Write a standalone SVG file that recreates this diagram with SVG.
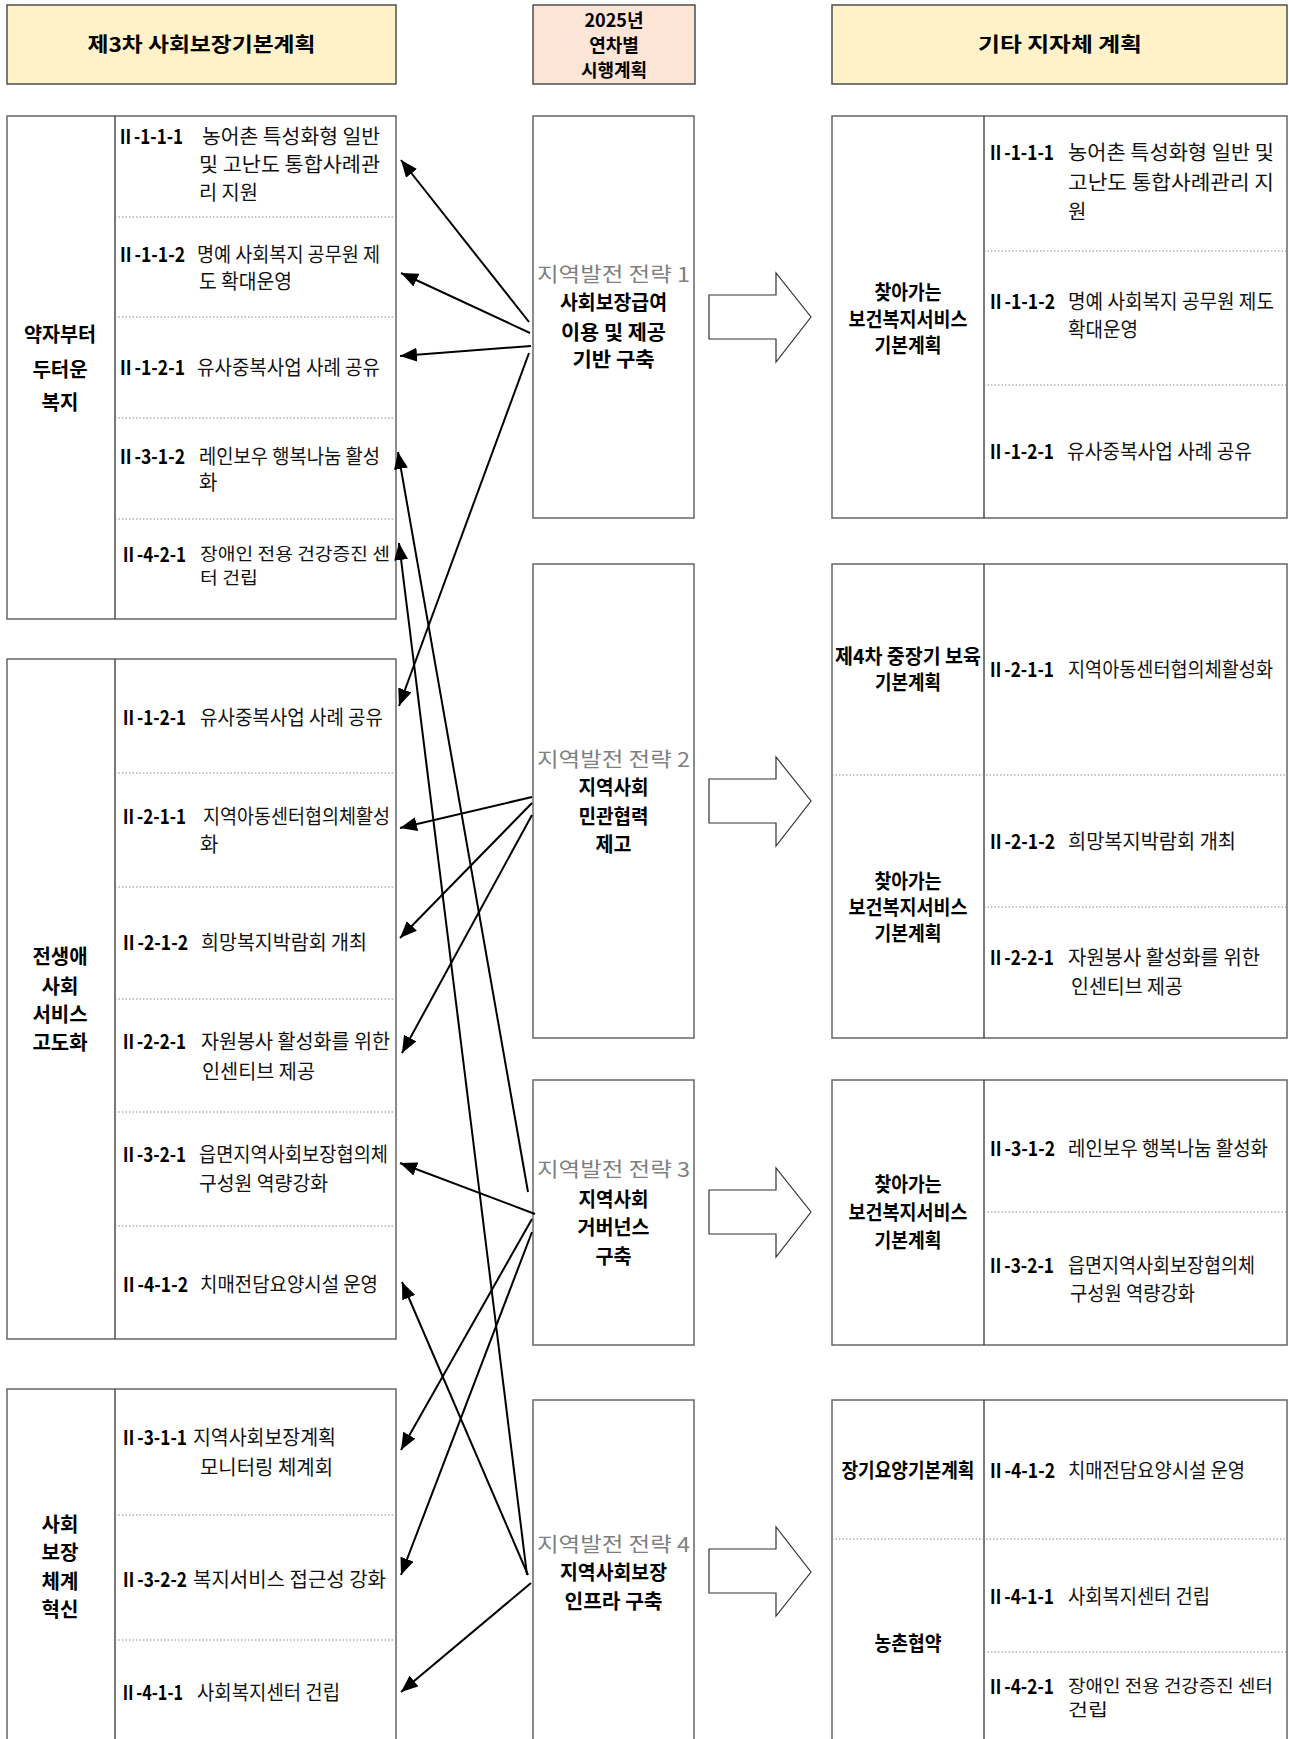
<svg xmlns="http://www.w3.org/2000/svg" width="1289" height="1739" viewBox="0 0 1289 1739">
<style>
.bg{fill:#fff}
.box{fill:#fff;stroke:#666;stroke-width:1.5}
.hy{fill:#FFF2C8;stroke:#4d4d4d;stroke-width:1.5}
.hp{fill:#FCE4D6;stroke:#4d4d4d;stroke-width:1.5}
.dv{stroke:#333;stroke-width:1.3}
.dt{stroke:#888;stroke-width:1;stroke-dasharray:1.5 2}
.t{font-family:"Noto Sans CJK KR","Noto Sans",sans-serif;font-size:20px;fill:#111}
.ts{font-family:"Noto Sans CJK KR","Noto Sans",sans-serif;font-size:17px;fill:#111}
.c{font-family:"Noto Sans CJK KR","Noto Sans",sans-serif;font-size:20px;font-weight:700;fill:#000}
.l{font-family:"Noto Sans CJK KR","Noto Sans",sans-serif;font-size:20px;font-weight:700;fill:#000;text-anchor:middle}
.ls{font-family:"Noto Sans CJK KR","Noto Sans",sans-serif;font-size:18px;font-weight:700;fill:#000;text-anchor:middle}
.g{font-family:"Noto Sans CJK KR","Noto Sans",sans-serif;font-size:20px;fill:#7f7f7f;text-anchor:middle}
.cn{stroke:#000;stroke-width:2;fill:none;marker-end:url(#ah)}
.ba{fill:#fff;stroke:#333;stroke-width:1.2}
</style>
<defs>
<marker id="ah" markerUnits="userSpaceOnUse" markerWidth="17" markerHeight="14" refX="17" refY="7" orient="auto">
<path d="M0,0 L17,7 L0,14 z" fill="#000"/>
</marker>
</defs>
<rect class="bg" x="0" y="0" width="1289" height="1739"/>

<!-- headers -->
<g id="hdr-left">
<rect class="hy" x="7" y="5" width="389" height="79"/>
<text class="l" x="201.5" y="52" textLength="228" lengthAdjust="spacingAndGlyphs">제3차 사회보장기본계획</text>
</g>
<g id="hdr-mid">
<rect class="hp" x="533" y="5" width="162" height="79"/>
<text class="ls" x="614" y="27">2025년</text>
<text class="ls" x="614" y="52">연차별</text>
<text class="ls" x="614" y="77">시행계획</text>
</g>
<g id="hdr-right">
<rect class="hy" x="832" y="5" width="455" height="79"/>
<text class="l" x="1060" y="52" textLength="164" lengthAdjust="spacingAndGlyphs">기타 지자체 계획</text>
</g>

<!-- left box 1 -->
<g id="left-1">
<rect class="box" x="7" y="116" width="389" height="503"/>
<line class="dv" x1="115" y1="116" x2="115" y2="619"/>
<line class="dt" x1="115" y1="217" x2="396" y2="217"/>
<line class="dt" x1="115" y1="317" x2="396" y2="317"/>
<line class="dt" x1="115" y1="418" x2="396" y2="418"/>
<line class="dt" x1="115" y1="519" x2="396" y2="519"/>
<text class="l" x="60" y="342" textLength="72" lengthAdjust="spacingAndGlyphs">약자부터</text>
<text class="l" x="60" y="377">두터운</text>
<text class="l" x="60" y="410">복지</text>
<text class="c" x="117" y="144" textLength="66" lengthAdjust="spacingAndGlyphs">Ⅱ-1-1-1</text>
<text class="t" x="202" y="144" textLength="178" lengthAdjust="spacingAndGlyphs">농어촌 특성화형 일반</text>
<text class="t" x="199" y="172" textLength="181" lengthAdjust="spacingAndGlyphs">및 고난도 통합사례관</text>
<text class="t" x="199" y="200" textLength="59" lengthAdjust="spacingAndGlyphs">리 지원</text>
<text class="c" x="117" y="262" textLength="68" lengthAdjust="spacingAndGlyphs">Ⅱ-1-1-2</text>
<text class="t" x="197" y="262" textLength="183" lengthAdjust="spacingAndGlyphs">명예 사회복지 공무원 제</text>
<text class="t" x="199" y="289" textLength="93" lengthAdjust="spacingAndGlyphs">도 확대운영</text>
<text class="c" x="117" y="375" textLength="68" lengthAdjust="spacingAndGlyphs">Ⅱ-1-2-1</text>
<text class="t" x="197" y="375" textLength="183" lengthAdjust="spacingAndGlyphs">유사중복사업 사례 공유</text>
<text class="c" x="117" y="464" textLength="68" lengthAdjust="spacingAndGlyphs">Ⅱ-3-1-2</text>
<text class="t" x="199" y="464" textLength="181" lengthAdjust="spacingAndGlyphs">레인보우 행복나눔 활성</text>
<text class="t" x="199" y="490">화</text>
<text class="c" x="120" y="562" textLength="66" lengthAdjust="spacingAndGlyphs">Ⅱ-4-2-1</text>
<text class="ts" x="200" y="560" textLength="190" lengthAdjust="spacingAndGlyphs">장애인 전용 건강증진 센</text>
<text class="ts" x="200" y="584" textLength="58" lengthAdjust="spacingAndGlyphs">터 건립</text>
</g>

<!-- left box 2 -->
<g id="left-2">
<rect class="box" x="7" y="659" width="389" height="680"/>
<line class="dv" x1="115" y1="659" x2="115" y2="1339"/>
<line class="dt" x1="115" y1="773" x2="396" y2="773"/>
<line class="dt" x1="115" y1="887" x2="396" y2="887"/>
<line class="dt" x1="115" y1="999" x2="396" y2="999"/>
<line class="dt" x1="115" y1="1112" x2="396" y2="1112"/>
<line class="dt" x1="115" y1="1226" x2="396" y2="1226"/>
<text class="l" x="60" y="964">전생애</text>
<text class="l" x="60" y="994">사회</text>
<text class="l" x="60" y="1022">서비스</text>
<text class="l" x="60" y="1050">고도화</text>
<text class="c" x="120" y="725" textLength="66" lengthAdjust="spacingAndGlyphs">Ⅱ-1-2-1</text>
<text class="t" x="200" y="725" textLength="183" lengthAdjust="spacingAndGlyphs">유사중복사업 사례 공유</text>
<text class="c" x="120" y="824" textLength="66" lengthAdjust="spacingAndGlyphs">Ⅱ-2-1-1</text>
<text class="t" x="203" y="824" textLength="187" lengthAdjust="spacingAndGlyphs">지역아동센터협의체활성</text>
<text class="t" x="200" y="852">화</text>
<text class="c" x="120" y="950" textLength="68" lengthAdjust="spacingAndGlyphs">Ⅱ-2-1-2</text>
<text class="t" x="201" y="950" textLength="166" lengthAdjust="spacingAndGlyphs">희망복지박람회 개최</text>
<text class="c" x="120" y="1049" textLength="66" lengthAdjust="spacingAndGlyphs">Ⅱ-2-2-1</text>
<text class="t" x="201" y="1049" textLength="189" lengthAdjust="spacingAndGlyphs">자원봉사 활성화를 위한</text>
<text class="t" x="202" y="1079" textLength="113" lengthAdjust="spacingAndGlyphs">인센티브 제공</text>
<text class="c" x="120" y="1162" textLength="66" lengthAdjust="spacingAndGlyphs">Ⅱ-3-2-1</text>
<text class="t" x="199" y="1162" textLength="189" lengthAdjust="spacingAndGlyphs">읍면지역사회보장협의체</text>
<text class="t" x="199" y="1191" textLength="129" lengthAdjust="spacingAndGlyphs">구성원 역량강화</text>
<text class="c" x="120" y="1292" textLength="68" lengthAdjust="spacingAndGlyphs">Ⅱ-4-1-2</text>
<text class="t" x="200" y="1292" textLength="178" lengthAdjust="spacingAndGlyphs">치매전담요양시설 운영</text>
</g>

<!-- left box 3 -->
<g id="left-3">
<rect class="box" x="7" y="1389" width="389" height="360"/>
<line class="dv" x1="115" y1="1389" x2="115" y2="1749"/>
<line class="dt" x1="115" y1="1515" x2="396" y2="1515"/>
<line class="dt" x1="115" y1="1640" x2="396" y2="1640"/>
<text class="l" x="60" y="1532">사회</text>
<text class="l" x="60" y="1560">보장</text>
<text class="l" x="60" y="1589">체계</text>
<text class="l" x="60" y="1617">혁신</text>
<text class="c" x="120" y="1445" textLength="67" lengthAdjust="spacingAndGlyphs">Ⅱ-3-1-1</text>
<text class="t" x="193" y="1445" textLength="143" lengthAdjust="spacingAndGlyphs">지역사회보장계획</text>
<text class="t" x="200" y="1475" textLength="133" lengthAdjust="spacingAndGlyphs">모니터링 체계회</text>
<text class="c" x="120" y="1587" textLength="67" lengthAdjust="spacingAndGlyphs">Ⅱ-3-2-2</text>
<text class="t" x="193" y="1587" textLength="193" lengthAdjust="spacingAndGlyphs">복지서비스 접근성 강화</text>
<text class="c" x="120" y="1700" textLength="63" lengthAdjust="spacingAndGlyphs">Ⅱ-4-1-1</text>
<text class="t" x="197" y="1700" textLength="143" lengthAdjust="spacingAndGlyphs">사회복지센터 건립</text>
</g>

<!-- strategy boxes -->
<g id="strategy-1">
<rect class="box" x="533" y="116" width="161" height="402"/>
<text class="g" x="613.5" y="282" textLength="153" lengthAdjust="spacingAndGlyphs">지역발전 전략 1</text>
<text class="l" x="613.5" y="310" textLength="107" lengthAdjust="spacingAndGlyphs">사회보장급여</text>
<text class="l" x="613.5" y="340" textLength="105" lengthAdjust="spacingAndGlyphs">이용 및 제공</text>
<text class="l" x="613.5" y="367" textLength="82" lengthAdjust="spacingAndGlyphs">기반 구축</text>
</g>
<g id="strategy-2">
<rect class="box" x="533" y="564" width="161" height="474"/>
<text class="g" x="613.5" y="767" textLength="153" lengthAdjust="spacingAndGlyphs">지역발전 전략 2</text>
<text class="l" x="613.5" y="795" textLength="70" lengthAdjust="spacingAndGlyphs">지역사회</text>
<text class="l" x="613.5" y="824" textLength="70" lengthAdjust="spacingAndGlyphs">민관협력</text>
<text class="l" x="613.5" y="852" textLength="36" lengthAdjust="spacingAndGlyphs">제고</text>
</g>
<g id="strategy-3">
<rect class="box" x="533" y="1080" width="161" height="265"/>
<text class="g" x="613.5" y="1177" textLength="153" lengthAdjust="spacingAndGlyphs">지역발전 전략 3</text>
<text class="l" x="613.5" y="1207" textLength="70" lengthAdjust="spacingAndGlyphs">지역사회</text>
<text class="l" x="613.5" y="1235" textLength="72" lengthAdjust="spacingAndGlyphs">거버넌스</text>
<text class="l" x="613.5" y="1264" textLength="36" lengthAdjust="spacingAndGlyphs">구축</text>
</g>
<g id="strategy-4">
<rect class="box" x="533" y="1400" width="161" height="349"/>
<text class="g" x="613.5" y="1552" textLength="153" lengthAdjust="spacingAndGlyphs">지역발전 전략 4</text>
<text class="l" x="613.5" y="1580" textLength="107" lengthAdjust="spacingAndGlyphs">지역사회보장</text>
<text class="l" x="613.5" y="1609" textLength="98" lengthAdjust="spacingAndGlyphs">인프라 구축</text>
</g>

<!-- block arrows -->
<g id="block-arrows">
<polygon class="ba" points="709,295 776,295 776,273 811,317 776,362 776,339 709,339"/>
<polygon class="ba" points="709,779 776,779 776,757 811,801 776,846 776,823 709,823"/>
<polygon class="ba" points="709,1190 776,1190 776,1168 811,1212 776,1257 776,1234 709,1234"/>
<polygon class="ba" points="709,1549 776,1549 776,1527 811,1572 776,1616 776,1593 709,1593"/>
</g>

<!-- right box 1 -->
<g id="right-1">
<rect class="box" x="832" y="116" width="455" height="402"/>
<line class="dv" x1="984" y1="116" x2="984" y2="518"/>
<line class="dt" x1="984" y1="251" x2="1287" y2="251"/>
<line class="dt" x1="984" y1="385" x2="1287" y2="385"/>
<text class="l" x="908" y="300" textLength="67" lengthAdjust="spacingAndGlyphs">찾아가는</text>
<text class="l" x="908" y="327" textLength="119" lengthAdjust="spacingAndGlyphs">보건복지서비스</text>
<text class="l" x="908" y="353" textLength="67" lengthAdjust="spacingAndGlyphs">기본계획</text>
<text class="c" x="987" y="160" textLength="67" lengthAdjust="spacingAndGlyphs">Ⅱ-1-1-1</text>
<text class="t" x="1068" y="160" textLength="206" lengthAdjust="spacingAndGlyphs">농어촌 특성화형 일반 및</text>
<text class="t" x="1068" y="190" textLength="206" lengthAdjust="spacingAndGlyphs">고난도  통합사례관리  지</text>
<text class="t" x="1068" y="219">원</text>
<text class="c" x="987" y="309" textLength="68" lengthAdjust="spacingAndGlyphs">Ⅱ-1-1-2</text>
<text class="t" x="1068" y="309" textLength="206" lengthAdjust="spacingAndGlyphs">명예 사회복지 공무원 제도</text>
<text class="t" x="1068" y="337" textLength="70" lengthAdjust="spacingAndGlyphs">확대운영</text>
<text class="c" x="987" y="459" textLength="67" lengthAdjust="spacingAndGlyphs">Ⅱ-1-2-1</text>
<text class="t" x="1067" y="459" textLength="185" lengthAdjust="spacingAndGlyphs">유사중복사업 사례 공유</text>
</g>

<!-- right box 2 -->
<g id="right-2">
<rect class="box" x="832" y="564" width="455" height="474"/>
<line class="dv" x1="984" y1="564" x2="984" y2="1038"/>
<line class="dt" x1="832" y1="775" x2="1287" y2="775"/>
<line class="dt" x1="984" y1="907" x2="1287" y2="907"/>
<text class="l" x="908" y="664" textLength="146" lengthAdjust="spacingAndGlyphs">제4차 중장기 보육</text>
<text class="l" x="908" y="690" textLength="66" lengthAdjust="spacingAndGlyphs">기본계획</text>
<text class="l" x="908" y="889" textLength="67" lengthAdjust="spacingAndGlyphs">찾아가는</text>
<text class="l" x="908" y="915" textLength="119" lengthAdjust="spacingAndGlyphs">보건복지서비스</text>
<text class="l" x="908" y="941" textLength="67" lengthAdjust="spacingAndGlyphs">기본계획</text>
<text class="c" x="987" y="677" textLength="67" lengthAdjust="spacingAndGlyphs">Ⅱ-2-1-1</text>
<text class="t" x="1068" y="677" textLength="205" lengthAdjust="spacingAndGlyphs">지역아동센터협의체활성화</text>
<text class="c" x="987" y="849" textLength="68" lengthAdjust="spacingAndGlyphs">Ⅱ-2-1-2</text>
<text class="t" x="1068" y="849" textLength="168" lengthAdjust="spacingAndGlyphs">희망복지박람회 개최</text>
<text class="c" x="987" y="965" textLength="67" lengthAdjust="spacingAndGlyphs">Ⅱ-2-2-1</text>
<text class="t" x="1068" y="965" textLength="192" lengthAdjust="spacingAndGlyphs">자원봉사 활성화를 위한</text>
<text class="t" x="1071" y="994" textLength="112" lengthAdjust="spacingAndGlyphs">인센티브 제공</text>
</g>

<!-- right box 3 -->
<g id="right-3">
<rect class="box" x="832" y="1080" width="455" height="265"/>
<line class="dv" x1="984" y1="1080" x2="984" y2="1345"/>
<line class="dt" x1="984" y1="1212" x2="1287" y2="1212"/>
<text class="l" x="908" y="1192" textLength="67" lengthAdjust="spacingAndGlyphs">찾아가는</text>
<text class="l" x="908" y="1220" textLength="119" lengthAdjust="spacingAndGlyphs">보건복지서비스</text>
<text class="l" x="908" y="1248" textLength="67" lengthAdjust="spacingAndGlyphs">기본계획</text>
<text class="c" x="987" y="1156" textLength="68" lengthAdjust="spacingAndGlyphs">Ⅱ-3-1-2</text>
<text class="t" x="1068" y="1156" textLength="200" lengthAdjust="spacingAndGlyphs">레인보우 행복나눔 활성화</text>
<text class="c" x="987" y="1273" textLength="67" lengthAdjust="spacingAndGlyphs">Ⅱ-3-2-1</text>
<text class="t" x="1068" y="1273" textLength="187" lengthAdjust="spacingAndGlyphs">읍면지역사회보장협의체</text>
<text class="t" x="1070" y="1301" textLength="125" lengthAdjust="spacingAndGlyphs">구성원 역량강화</text>
</g>

<!-- right box 4 -->
<g id="right-4">
<rect class="box" x="832" y="1400" width="455" height="349"/>
<line class="dv" x1="984" y1="1400" x2="984" y2="1749"/>
<line class="dt" x1="832" y1="1539" x2="1287" y2="1539"/>
<line class="dt" x1="984" y1="1652" x2="1287" y2="1652"/>
<text class="l" x="908" y="1478" textLength="133" lengthAdjust="spacingAndGlyphs">장기요양기본계획</text>
<text class="l" x="908" y="1651" textLength="67" lengthAdjust="spacingAndGlyphs">농촌협약</text>
<text class="c" x="987" y="1694" textLength="67" lengthAdjust="spacingAndGlyphs">Ⅱ-4-2-1</text>
<text class="c" x="987" y="1478" textLength="68" lengthAdjust="spacingAndGlyphs">Ⅱ-4-1-2</text>
<text class="t" x="1068" y="1478" textLength="177" lengthAdjust="spacingAndGlyphs">치매전담요양시설 운영</text>
<text class="c" x="987" y="1604" textLength="67" lengthAdjust="spacingAndGlyphs">Ⅱ-4-1-1</text>
<text class="t" x="1068" y="1604" textLength="142" lengthAdjust="spacingAndGlyphs">사회복지센터 건립</text>
<text class="ts" x="1068" y="1692" textLength="205" lengthAdjust="spacingAndGlyphs">장애인 전용 건강증진 센터</text>
<text class="ts" x="1068" y="1716" textLength="40" lengthAdjust="spacingAndGlyphs">건립</text>
</g>

<!-- connectors -->
<g id="connectors">
<line class="cn" x1="529" y1="322" x2="401" y2="160"/>
<line class="cn" x1="530" y1="333" x2="401" y2="273"/>
<line class="cn" x1="531" y1="346" x2="400" y2="356"/>
<line class="cn" x1="529" y1="353" x2="399" y2="706"/>
<line class="cn" x1="532" y1="797" x2="400" y2="828"/>
<line class="cn" x1="532" y1="803" x2="400" y2="938"/>
<line class="cn" x1="532" y1="815" x2="402" y2="1053"/>
<line class="cn" x1="528" y1="1192" x2="398" y2="452"/>
<line class="cn" x1="535" y1="1214" x2="400" y2="1163"/>
<line class="cn" x1="532" y1="1219" x2="401" y2="1450"/>
<line class="cn" x1="532" y1="1232" x2="401" y2="1575"/>
<line class="cn" x1="527" y1="1575" x2="399" y2="543"/>
<line class="cn" x1="528" y1="1575" x2="402" y2="1282"/>
<line class="cn" x1="531" y1="1583" x2="401" y2="1692"/>
</g>
</svg>
